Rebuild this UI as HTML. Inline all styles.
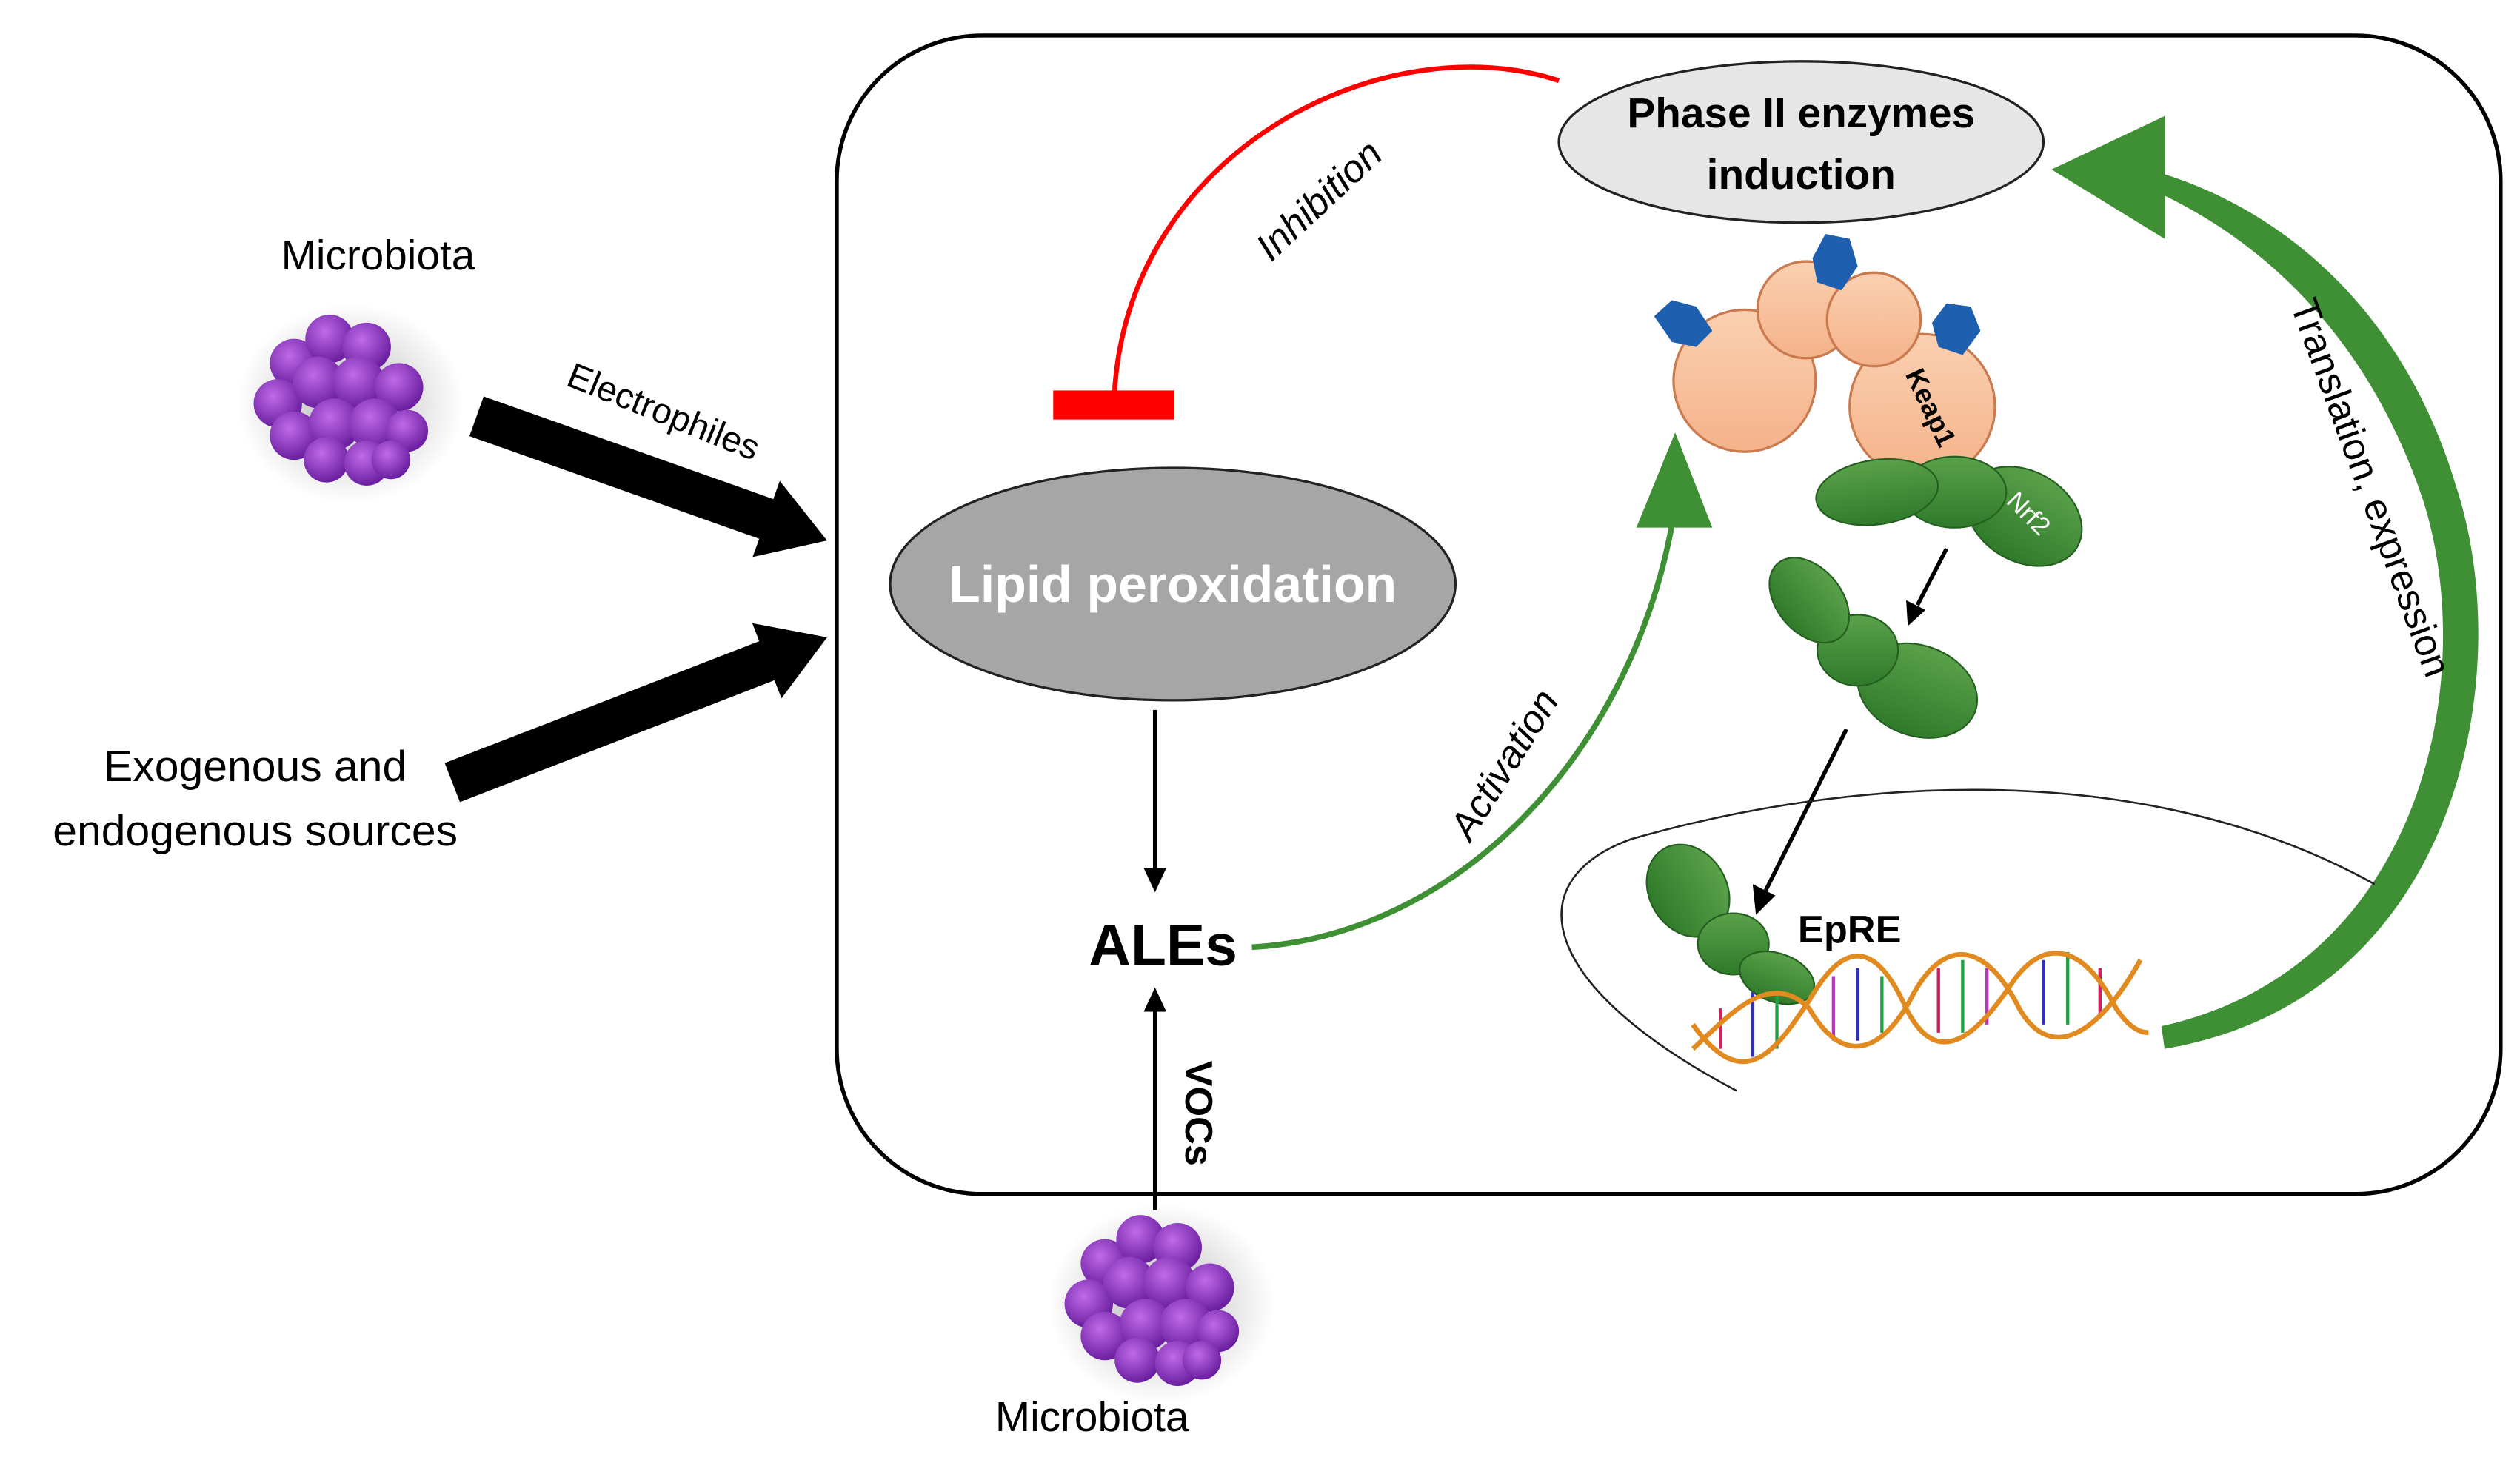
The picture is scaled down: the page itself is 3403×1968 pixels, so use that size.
<!DOCTYPE html>
<html><head><meta charset="utf-8"><style>
html,body{margin:0;padding:0;background:#fff}
svg{display:block}
text{font-family:"Liberation Sans",sans-serif}
</style></head><body>
<svg width="3403" height="1968" viewBox="0 0 1560 903" preserveAspectRatio="none" xmlns="http://www.w3.org/2000/svg">
<defs>
<radialGradient id="pg" cx="40%" cy="35%" r="65%"><stop offset="0" stop-color="#c06ae8"/><stop offset="1" stop-color="#6a1fa0"/></radialGradient>
<radialGradient id="sh" cx="50%" cy="50%" r="50%"><stop offset="0" stop-color="#888" stop-opacity=".6"/><stop offset="1" stop-color="#888" stop-opacity="0"/></radialGradient>
<linearGradient id="gr" x1="0" y1="0" x2="0" y2="1"><stop offset="0" stop-color="#5aa14a"/><stop offset="1" stop-color="#2f7a2a"/></linearGradient>
<linearGradient id="pk" x1="0" y1="0" x2="0" y2="1"><stop offset="0" stop-color="#fbd0b0"/><stop offset="1" stop-color="#f4b28a"/></linearGradient>
<g id="cl">
<ellipse cx="5" cy="5" rx="70" ry="62" fill="url(#sh)"/>
<circle cx="-30" cy="-20" r="15" fill="url(#pg)"/><circle cx="-8" cy="-35" r="15" fill="url(#pg)"/><circle cx="15" cy="-30" r="15" fill="url(#pg)"/>
<circle cx="-40" cy="5" r="15" fill="url(#pg)"/><circle cx="-15" cy="-8" r="16" fill="url(#pg)"/><circle cx="10" cy="-8" r="16" fill="url(#pg)"/><circle cx="35" cy="-5" r="15" fill="url(#pg)"/>
<circle cx="-30" cy="25" r="15" fill="url(#pg)"/><circle cx="-5" cy="18" r="16" fill="url(#pg)"/><circle cx="20" cy="18" r="16" fill="url(#pg)"/><circle cx="40" cy="22" r="13" fill="url(#pg)"/>
<circle cx="-10" cy="40" r="14" fill="url(#pg)"/><circle cx="15" cy="42" r="14" fill="url(#pg)"/><circle cx="30" cy="40" r="12" fill="url(#pg)"/>
</g>
</defs>
<rect x="518" y="22" width="1030" height="718" rx="90" fill="none" stroke="#000" stroke-width="2.5"/>

<!-- Phase II -->
<ellipse cx="1115" cy="88" rx="150" ry="50" fill="#e6e6e6" stroke="#222" stroke-width="1.5"/>
<text x="1115" y="79" font-size="26" font-weight="bold" text-anchor="middle">Phase II enzymes</text>
<text x="1115" y="117" font-size="26" font-weight="bold" text-anchor="middle">induction</text>

<!-- Lipid -->
<ellipse cx="726" cy="362" rx="175" ry="72" fill="#a6a6a6" stroke="#222" stroke-width="1.5"/>
<text x="726" y="373" font-size="32" font-weight="bold" fill="#fff" text-anchor="middle">Lipid peroxidation</text>

<!-- inhibition -->
<path d="M965,50 C860,15 700,90 690,242" fill="none" stroke="#f00" stroke-width="3"/>
<rect x="652" y="242" width="75" height="18" fill="#f00"/>
<text x="0" y="0" font-size="24" font-style="italic" transform="translate(822,130) rotate(-43)" text-anchor="middle">Inhibition</text>

<!-- Microbiota top -->
<text x="234" y="167" font-size="26" text-anchor="middle">Microbiota</text>
<use href="#cl" x="212" y="245"/>

<!-- black arrows -->
<polygon points="299.4,245.7 478.7,309.3 482.7,298 512,335 465.9,345.2 470,333.9 290.6,270.3" fill="#000"/>
<polygon points="275.3,472.9 470,397.4 465.7,386.2 512,395 483.8,432.8 479.4,421.6 284.7,497.1" fill="#000"/>
<text x="0" y="0" font-size="22" transform="translate(408,262) rotate(22)" text-anchor="middle">Electrophiles</text>
<text x="158" y="484" font-size="27" text-anchor="middle">Exogenous and</text>
<text x="158" y="524" font-size="27" text-anchor="middle">endogenous sources</text>

<!-- lipid to ALEs -->
<line x1="715" y1="440" x2="715" y2="540" stroke="#000" stroke-width="2.5"/>
<polygon points="708,538 722,538 715,553" fill="#000"/>
<text x="720" y="598" font-size="36" font-weight="bold" text-anchor="middle">ALEs</text>

<!-- VOCs -->
<line x1="715" y1="750" x2="715" y2="625" stroke="#000" stroke-width="2.5"/>
<polygon points="708,627 722,627 715,612" fill="#000"/>
<text x="0" y="0" font-size="24" font-weight="bold" transform="translate(734,690) rotate(90)" text-anchor="middle">VOCs</text>

<use href="#cl" x="714" y="803"/>
<text x="676" y="887" font-size="26" text-anchor="middle">Microbiota</text>

<!-- activation -->
<path d="M775,587 C900,580 1010,470 1036,320" fill="none" stroke="#3f8f35" stroke-width="3.5"/>
<polygon points="1037,268 1013,327 1060,327" fill="#3f8f35"/>
<text x="0" y="0" font-size="24" font-style="italic" transform="translate(938,478) rotate(-58)" text-anchor="middle">Activation</text>

<!-- translation -->
<path d="M1340,650 C1520,620 1560,420 1520,300 C1490,200 1420,130 1330,105 L1324,114 C1410,150 1470,220 1500,310 C1535,420 1500,600 1338,636 Z" fill="#3f8f35"/>
<polygon points="1270,105 1340,72 1340,148" fill="#3f8f35"/>
<text x="0" y="0" font-size="24" transform="translate(1460,305) rotate(70)" text-anchor="middle">Translation, expression</text>

<!-- Keap1 -->
<g stroke="#c97a4e" stroke-width="1.5" fill="url(#pk)">
<circle cx="1080" cy="236" r="44"/>
<circle cx="1190" cy="252" r="45"/>
<circle cx="1118" cy="192" r="30"/>
<circle cx="1160" cy="198" r="29"/>
</g>
<g fill="#1f5fb0">
<polygon points="1024,196 1035,186 1050,190 1060,205 1050,215 1035,212"/>
<polygon points="1122,160 1130,145 1145,148 1150,165 1140,180 1125,175"/>
<polygon points="1196,200 1205,188 1220,190 1226,205 1215,220 1200,215"/>
</g>
<text x="0" y="0" font-size="17" font-weight="bold" transform="translate(1190,255) rotate(65)" text-anchor="middle">Keap1</text>

<!-- Nrf2 -->
<g fill="url(#gr)" stroke="#245f20" stroke-width="1">
<ellipse cx="1253" cy="320" rx="38" ry="28" transform="rotate(30 1253 320)"/>
<ellipse cx="1210" cy="305" rx="32" ry="22"/>
<ellipse cx="1162" cy="305" rx="38" ry="20" transform="rotate(-8 1162 305)"/>
</g>
<text x="0" y="0" font-size="16" fill="#fff" transform="translate(1252,322) rotate(45)" text-anchor="middle">Nrf2</text>
<line x1="1205" y1="340" x2="1187" y2="375" stroke="#000" stroke-width="2.5"/>
<polygon points="1180,372 1192,378 1181,388" fill="#000"/>

<g fill="url(#gr)" stroke="#245f20" stroke-width="1">
<ellipse cx="1187" cy="428" rx="38" ry="28" transform="rotate(20 1187 428)"/>
<ellipse cx="1150" cy="403" rx="25" ry="22"/>
<ellipse cx="1120" cy="372" rx="30" ry="20" transform="rotate(50 1120 372)"/>
</g>
<line x1="1143" y1="452" x2="1093" y2="552" stroke="#000" stroke-width="2.5"/>
<polygon points="1085,548 1099,555 1087,567" fill="#000"/>

<!-- nucleus -->
<path d="M1470,548 C1330,470 1150,480 1010,520 C940,545 950,610 1075,676" fill="none" stroke="#222" stroke-width="1.2"/>

<g fill="url(#gr)" stroke="#245f20" stroke-width="1">
<ellipse cx="1045" cy="552" rx="30" ry="24" transform="rotate(60 1045 552)"/>
<ellipse cx="1073" cy="585" rx="22" ry="19"/>
<ellipse cx="1100" cy="606" rx="24" ry="15" transform="rotate(20 1100 606)"/>
</g>
<text x="1145" y="584" font-size="24" font-weight="bold" text-anchor="middle">EpRE</text>

<!-- DNA -->
<g stroke-width="2">
<line x1="1065" y1="625" x2="1065" y2="650" stroke="#d02060"/>
<line x1="1085" y1="615" x2="1085" y2="655" stroke="#3030c0"/>
<line x1="1100" y1="615" x2="1100" y2="650" stroke="#20a040"/>
<line x1="1135" y1="605" x2="1135" y2="645" stroke="#c030c0"/>
<line x1="1150" y1="600" x2="1150" y2="645" stroke="#3030c0"/>
<line x1="1165" y1="605" x2="1165" y2="640" stroke="#20a040"/>
<line x1="1200" y1="600" x2="1200" y2="640" stroke="#d02060"/>
<line x1="1215" y1="595" x2="1215" y2="640" stroke="#20a040"/>
<line x1="1230" y1="600" x2="1230" y2="635" stroke="#c030c0"/>
<line x1="1265" y1="595" x2="1265" y2="635" stroke="#3030c0"/>
<line x1="1280" y1="590" x2="1280" y2="635" stroke="#20a040"/>
<line x1="1300" y1="600" x2="1300" y2="630" stroke="#d02060"/>
</g>
<path d="M1048,635 C1080,680 1100,650 1120,620 C1140,585 1160,580 1180,625 C1200,665 1225,640 1245,610 C1265,580 1290,585 1310,625 Q1320,640 1330,640" fill="none" stroke="#e08a20" stroke-width="3"/>
<path d="M1048,650 C1070,630 1095,600 1120,625 C1140,660 1165,655 1185,615 C1205,580 1230,585 1250,625 C1270,660 1300,640 1325,595" fill="none" stroke="#e08a20" stroke-width="3"/>
</svg>
</body></html>
